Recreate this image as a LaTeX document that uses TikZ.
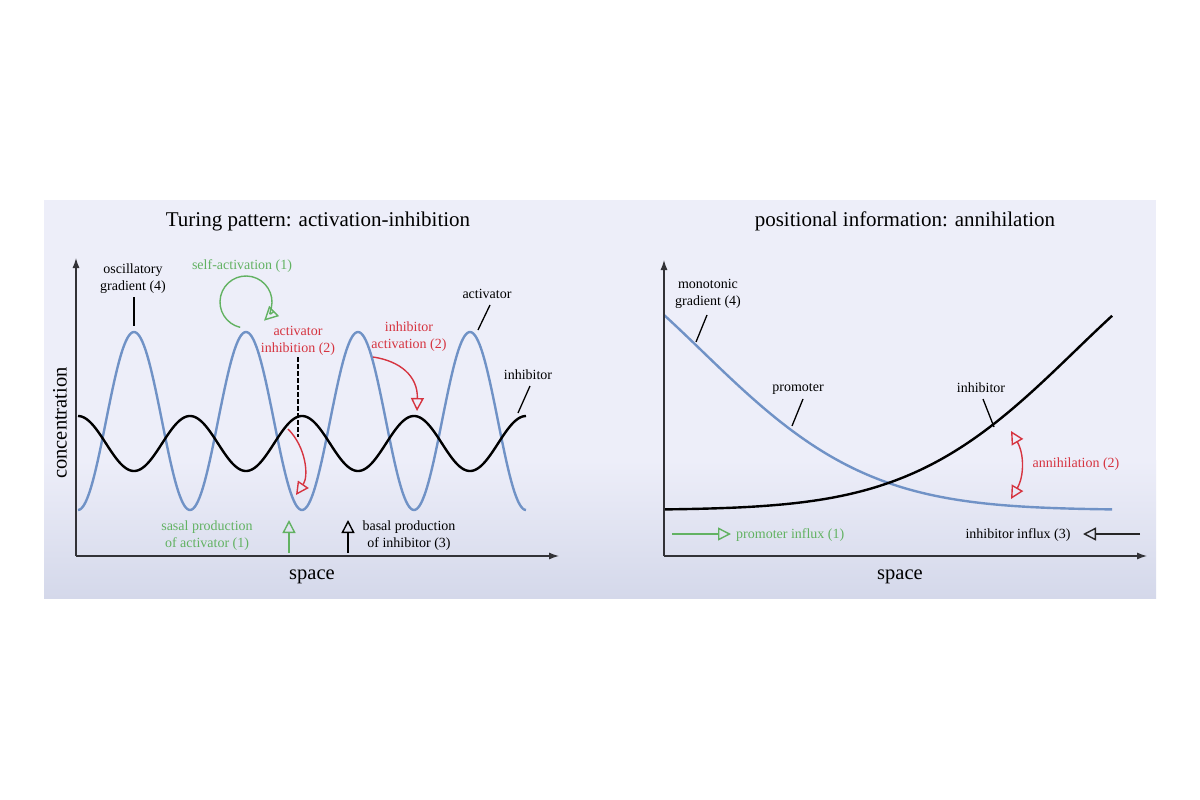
\documentclass[tikz,border=0pt]{standalone}
\usepackage{fontspec}
\setmainfont{Liberation Serif}
\usetikzlibrary{arrows.meta}
\definecolor{panelTop}{RGB}{237,238,249}
\definecolor{panelBot}{RGB}{212,216,234}
\definecolor{cblue}{RGB}{112,146,198}
\definecolor{cgreen}{RGB}{98,178,98}
\definecolor{cred}{RGB}{214,52,64}
\definecolor{caxis}{RGB}{50,50,55}
\begin{document}
\begin{tikzpicture}[x=1pt,y=-1pt,
  lbl/.style={font=\fontsize{14}{17}\selectfont, align=center, inner sep=0pt},
  ttl/.style={font=\fontsize{21}{24}\selectfont, inner sep=0pt},
  axl/.style={font=\fontsize{20.5}{24}\selectfont, inner sep=0pt},
  axis/.style={draw=caxis, line width=1.2pt, -{Latex[length=10pt,width=7pt]}},
  ptr/.style={draw=black, line width=1.3pt},
  opentip/.style={-{Triangle[open,length=13pt,width=13pt,line width=1.4pt]}},
  curveA/.style={cblue, line width=2.4pt},
  curveB/.style={black, line width=2.4pt},
  redarr/.style={cred, line width=1.4pt, opentip}]

\useasboundingbox (0,0) rectangle (1200,800);
\fill[white] (0,0) rectangle (1200,800);
\fill[panelTop] (44,200) rectangle (1156,461);
\shade[top color=panelTop, bottom color=panelBot] (44,460) rectangle (1156,598);

% ---------------- left panel ----------------
\node[ttl] (t1) at (318,221) {Turing pattern: activation-inhibition};

\draw[curveA] plot[domain=78:526, samples=300, smooth] (\x, {421-89*cos((\x-134)*3.2142857)});
\draw[curveB] plot[domain=78:526, samples=300, smooth] (\x, {443.5+27.5*cos((\x-134)*3.2142857)});

\coordinate (o1) at (76,556);
\coordinate (y1) at (76,258);
\coordinate (x1) at (559,556);
\draw[axis] (o1) -- (y1);
\draw[axis] (o1) -- (x1);
\node[axl, rotate=90] (c1) at (60,423) {concentration};
\node[axl] (s1) at (312,577) {space};

\node[lbl] (osc) at (133,279) {oscillatory\\gradient (4)};
\coordinate (osc1) at (134,297);
\coordinate (osc2) at (134,326);
\draw[ptr] (osc1) -- (osc2);

\node[lbl, text=cgreen] (sa) at (242,266) {self-activation (1)};
\coordinate (sc) at (246,302);
\draw[cgreen, line width=1.4pt, -{Triangle[open,length=14pt,width=14pt,line width=1.4pt]}] (sc) ++(257:26pt) arc[start angle=257, end angle=-46, radius=26pt];

\node[lbl, text=cred] (ai) at (298,341) {activator\\inhibition (2)};
\coordinate (d1) at (298,357);
\coordinate (d2) at (298,437);
\draw[black, line width=1.3pt, dash pattern=on 4.5pt off 2.5pt] (d1) -- (d2);
\coordinate (r1) at (288,429);
\coordinate (r2) at (296,495);
\draw[redarr] (r1) .. controls (306,447) and (309,476) .. (r2);

\node[lbl, text=cred] (ia) at (409,337) {inhibitor\\activation (2)};
\coordinate (q1) at (373,357);
\coordinate (q2) at (417,411);
\draw[redarr] (q1) .. controls (400,361) and (418,376) .. (q2);

\node[lbl] (act) at (487,294) {activator};
\coordinate (a1) at (490,305);
\coordinate (a2) at (478,330);
\draw[ptr] (a1) -- (a2);

\node[lbl] (inh) at (528,375) {inhibitor};
\coordinate (i1) at (530,386);
\coordinate (i2) at (518,413);
\draw[ptr] (i1) -- (i2);

\node[lbl, text=cgreen] (sp) at (207,536) {sasal production\\of activator (1)};
\coordinate (g1) at (289,553);
\coordinate (g2) at (289,520);
\draw[cgreen, line width=1.3pt, opentip] (g1) -- (g2);
\coordinate (b1) at (348,553);
\coordinate (b2) at (348,520);
\draw[black, line width=1.3pt, opentip] (b1) -- (b2);
\node[lbl] (bp) at (409,536) {basal production\\of inhibitor (3)};

% ---------------- right panel ----------------
\node[ttl] (t2) at (905,221) {positional information: annihilation};

\draw[curveA] plot[domain=0:1, samples=150, smooth] ({664+449*\x}, {510-195*exp(-2.1*\x-3.7*\x*\x)});
\draw[curveB] plot[domain=0:1, samples=150, smooth] ({664+449*\x}, {510-195*exp(-2.1*(1-\x)-3.7*(1-\x)*(1-\x))});

\coordinate (o2) at (664,556);
\coordinate (y2) at (664,260);
\coordinate (x2) at (1147,556);
\draw[axis] (o2) -- (y2);
\draw[axis] (o2) -- (x2);
\node[axl] (s2) at (900,577) {space};

\node[lbl] (mono) at (708,294) {monotonic\\gradient (4)};
\coordinate (m1) at (707,315);
\coordinate (m2) at (696,342);
\draw[ptr] (m1) -- (m2);

\node[lbl] (prom) at (798,389) {promoter};
\coordinate (p1) at (803,399);
\coordinate (p2) at (792,426);
\draw[ptr] (p1) -- (p2);

\node[lbl] (inh2) at (981,388) {inhibitor};
\coordinate (h1) at (983,399);
\coordinate (h2) at (994,427);
\draw[ptr] (h1) -- (h2);

\coordinate (n1) at (1011,431);
\coordinate (n2) at (1011,499);
\draw[cred, line width=1.4pt, {Triangle[open,length=13pt,width=13pt,line width=1.4pt]}-{Triangle[open,length=13pt,width=13pt,line width=1.4pt]}] (n1) to[bend left=30] (n2);
\node[lbl, text=cred] (ann) at (1076,464) {annihilation (2)};

\coordinate (f1) at (672,534);
\coordinate (f2) at (731,534);
\draw[cgreen, line width=1.3pt, opentip] (f1) -- (f2);
\node[lbl, text=cgreen, anchor=west] (pin) at (736,535) {promoter influx (1)};

\node[lbl] (iin) at (1018,535) {inhibitor influx (3)};
\coordinate (k1) at (1140,534);
\coordinate (k2) at (1083,534);
\draw[black!85, line width=1.3pt, opentip] (k1) -- (k2);

\end{tikzpicture}
\end{document}
